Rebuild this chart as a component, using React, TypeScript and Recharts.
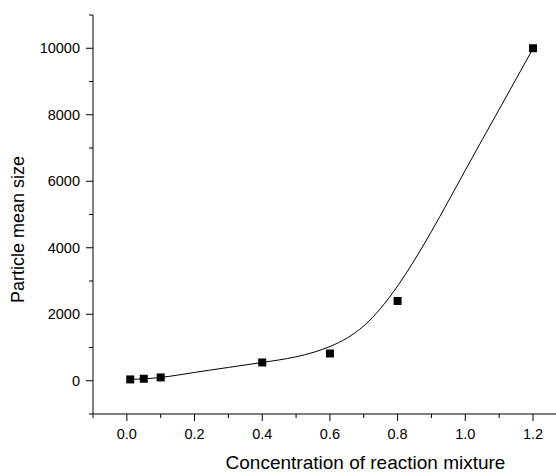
import React from 'react'
import { ComposedChart, Line, Scatter, XAxis, YAxis, Label } from 'recharts'

// measured points
const concentrations = [0.01, 0.05, 0.1, 0.4, 0.6, 0.8, 1.2]
const meanSizes = [40, 60, 100, 550, 820, 2400, 10000]

// fitted curve
const curveX = [0.01, 0.1, 0.2, 0.3, 0.4, 0.5, 0.6, 0.7, 0.8, 0.9, 1.0, 1.1, 1.2]
const curveY = [40, 100, 250, 400, 550, 720, 1030, 1650, 2850, 4490, 6330, 8160, 9990]

const xMajorTicks = [0, 0.2, 0.4, 0.6, 0.8, 1.0, 1.2]
const xMinorTicks = [-0.1, 0.1, 0.3, 0.5, 0.7, 0.9, 1.1]
const yMajorTicks = [0, 2000, 4000, 6000, 8000, 10000]
const yMinorTicks = [-1000, 1000, 3000, 5000, 7000, 9000, 11000]

const points = concentrations.map((x, i) => ({ x, y: meanSizes[i] }))
const curve = curveX.map((x, i) => ({ x, y: curveY[i] }))

const FONT = '"Liberation Sans", Arial, sans-serif'

const isMajor = (list: number[], v: number) => list.some((m) => Math.abs(m - v) < 1e-6)

function XTick(props: any) {
  const { x, y, payload } = props
  const major = isMajor(xMajorTicks, payload.value)
  return (
    <g>
      <line x1={x} x2={x} y1={y} y2={y + (major ? 7 : 4)} stroke="#000" />
      {major && (
        <text x={x} y={y + 25} textAnchor="middle" fontSize={14.5} fill="#000" fontFamily={FONT}>
          {payload.value.toFixed(1)}
        </text>
      )}
    </g>
  )
}

function YTick(props: any) {
  const { x, y, payload } = props
  const major = isMajor(yMajorTicks, payload.value)
  return (
    <g>
      <line x1={x - (major ? 7 : 4)} x2={x} y1={y} y2={y} stroke="#000" />
      {major && (
        <text x={x - 13} y={y + 5} textAnchor="end" fontSize={14.5} fill="#000" fontFamily={FONT}>
          {payload.value}
        </text>
      )}
    </g>
  )
}

export default function App() {
  const xTicks = [...xMinorTicks, ...xMajorTicks].sort((a, b) => a - b)
  const yTicks = [...yMinorTicks, ...yMajorTicks].sort((a, b) => a - b)
  return (
    <div style={{ position: 'absolute', left: 0, top: 0, background: '#fff' }}>
      <ComposedChart width={556} height={472} margin={{ top: 15, right: 0, left: 0, bottom: 0 }}>
        <XAxis
          type="number"
          dataKey="x"
          domain={[-0.1, 1.268]}
          ticks={xTicks}
          interval={0}
          allowDataOverflow
          height={58}
          tickSize={0}
          tickMargin={0}
          tickLine={false}
          axisLine={{ stroke: '#000' }}
          tick={<XTick />}
        >
          <Label
            value="Concentration of reaction mixture"
            position="insideBottom"
            offset={3}
            dx={41}
            style={{ fontSize: 19, fill: '#000', fontFamily: FONT }}
          />
        </XAxis>
        <YAxis
          type="number"
          dataKey="y"
          domain={[-1000, 11000]}
          ticks={yTicks}
          interval={0}
          allowDataOverflow
          width={93}
          tickSize={0}
          tickMargin={0}
          tickLine={false}
          axisLine={{ stroke: '#000' }}
          tick={<YTick />}
        >
          <Label
            value="Particle mean size"
            angle={-90}
            position="insideLeft"
            offset={18}
            dy={15}
            style={{ fontSize: 18, fill: '#000', fontFamily: FONT, textAnchor: 'middle' }}
          />
        </YAxis>
        <Line
          data={curve}
          dataKey="y"
          type="natural"
          stroke="#000"
          strokeWidth={1}
          dot={false}
          activeDot={false}
          isAnimationActive={false}
        />
        <Scatter data={points} dataKey="y" fill="#000" shape="square" isAnimationActive={false} />
      </ComposedChart>
    </div>
  )
}
